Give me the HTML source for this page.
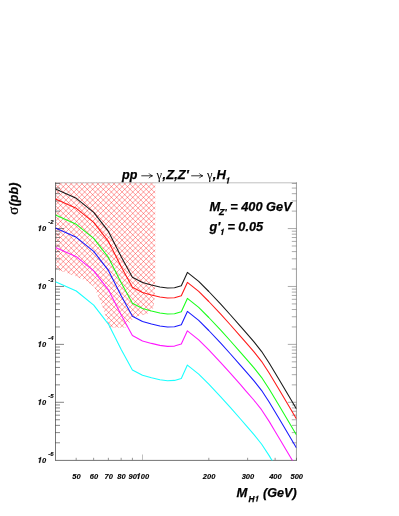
<!DOCTYPE html>
<html><head><meta charset="utf-8"><title>plot</title>
<style>
html,body{margin:0;padding:0;background:#fff;}
body{width:399px;height:516px;overflow:hidden;font-family:"Liberation Sans",sans-serif;}
svg{display:block;will-change:transform}
text{stroke:#000;stroke-width:0.25px;font-family:"Liberation Sans",sans-serif;font-weight:bold;font-style:italic;fill:#000}
.sm{stroke-width:0.12px}
.sym{font-family:"Liberation Serif",serif;font-weight:normal;font-style:normal}
</style></head><body>
<svg width="399" height="516" viewBox="0 0 399 516">
<defs>
<pattern id="h" width="5.37" height="5.37" patternUnits="userSpaceOnUse" x="110.1" y="186.8">
<path d="M-1 -1 L6.37 6.37 M-1 6.37 L6.37 -1" stroke="#ff2020" stroke-width="0.5" fill="none"/>
</pattern>
<clipPath id="c"><rect x="55.4" y="182.6" width="241.0" height="278.0"/></clipPath>
</defs>
<rect width="399" height="516" fill="#fff"/>
<clipPath id="hc"><polygon points="55.4,182.6 155.3,182.6 155.3,280.0 154.8,296.0 153.6,308.0 148.8,313.3 135.0,317.3 129.8,322.2 125.3,327.8 109.0,327.6 105.6,315.5 102.3,306.3 97.9,295.8 94.4,287.0 86.0,280.8 75.5,276.3 63.5,271.8 55.4,269.5"/></clipPath>
<g clip-path="url(#hc)" fill="none" stroke="#ff0000" stroke-opacity="0.48" stroke-width="0.8"><path d="M50.00 328.55 L160.00 438.55 M50.00 323.20 L160.00 433.20 M50.00 317.85 L160.00 427.85 M50.00 312.50 L160.00 422.50 M50.00 307.15 L160.00 417.15 M50.00 301.80 L160.00 411.80 M50.00 296.45 L160.00 406.45 M50.00 291.10 L160.00 401.10 M50.00 285.75 L160.00 395.75 M50.00 280.40 L160.00 390.40 M50.00 275.05 L160.00 385.05 M50.00 269.70 L160.00 379.70 M50.00 264.35 L160.00 374.35 M50.00 259.00 L160.00 369.00 M50.00 253.65 L160.00 363.65 M50.00 248.30 L160.00 358.30 M50.00 242.95 L160.00 352.95 M50.00 237.60 L160.00 347.60 M50.00 232.25 L160.00 342.25 M50.00 226.90 L160.00 336.90 M50.00 221.55 L160.00 331.55 M50.00 216.20 L160.00 326.20 M50.00 210.85 L160.00 320.85 M50.00 205.50 L160.00 315.50 M50.00 200.15 L160.00 310.15 M50.00 194.80 L160.00 304.80 M50.00 189.45 L160.00 299.45 M50.00 184.10 L160.00 294.10 M50.00 178.75 L160.00 288.75 M50.00 173.40 L160.00 283.40 M50.00 168.05 L160.00 278.05 M50.00 162.70 L160.00 272.70 M50.00 157.35 L160.00 267.35 M50.00 152.00 L160.00 262.00 M50.00 146.65 L160.00 256.65 M50.00 141.30 L160.00 251.30 M50.00 135.95 L160.00 245.95 M50.00 130.60 L160.00 240.60 M50.00 125.25 L160.00 235.25 M50.00 119.90 L160.00 229.90 M50.00 114.55 L160.00 224.55 M50.00 109.20 L160.00 219.20 M50.00 103.85 L160.00 213.85 M50.00 98.50 L160.00 208.50 M50.00 93.15 L160.00 203.15 M50.00 87.80 L160.00 197.80 M50.00 82.45 L160.00 192.45 M50.00 77.10 L160.00 187.10 M50.00 71.75 L160.00 181.75 M50.00 66.40 L160.00 176.40"/><path d="M50.00 178.45 L160.00 68.45 M50.00 183.80 L160.00 73.80 M50.00 189.15 L160.00 79.15 M50.00 194.50 L160.00 84.50 M50.00 199.85 L160.00 89.85 M50.00 205.20 L160.00 95.20 M50.00 210.55 L160.00 100.55 M50.00 215.90 L160.00 105.90 M50.00 221.25 L160.00 111.25 M50.00 226.60 L160.00 116.60 M50.00 231.95 L160.00 121.95 M50.00 237.30 L160.00 127.30 M50.00 242.65 L160.00 132.65 M50.00 248.00 L160.00 138.00 M50.00 253.35 L160.00 143.35 M50.00 258.70 L160.00 148.70 M50.00 264.05 L160.00 154.05 M50.00 269.40 L160.00 159.40 M50.00 274.75 L160.00 164.75 M50.00 280.10 L160.00 170.10 M50.00 285.45 L160.00 175.45 M50.00 290.80 L160.00 180.80 M50.00 296.15 L160.00 186.15 M50.00 301.50 L160.00 191.50 M50.00 306.85 L160.00 196.85 M50.00 312.20 L160.00 202.20 M50.00 317.55 L160.00 207.55 M50.00 322.90 L160.00 212.90 M50.00 328.25 L160.00 218.25 M50.00 333.60 L160.00 223.60 M50.00 338.95 L160.00 228.95 M50.00 344.30 L160.00 234.30 M50.00 349.65 L160.00 239.65 M50.00 355.00 L160.00 245.00 M50.00 360.35 L160.00 250.35 M50.00 365.70 L160.00 255.70 M50.00 371.05 L160.00 261.05 M50.00 376.40 L160.00 266.40 M50.00 381.75 L160.00 271.75 M50.00 387.10 L160.00 277.10 M50.00 392.45 L160.00 282.45 M50.00 397.80 L160.00 287.80 M50.00 403.15 L160.00 293.15 M50.00 408.50 L160.00 298.50 M50.00 413.85 L160.00 303.85 M50.00 419.20 L160.00 309.20 M50.00 424.55 L160.00 314.55 M50.00 429.90 L160.00 319.90 M50.00 435.25 L160.00 325.25 M50.00 440.60 L160.00 330.60"/></g>
<g fill="none">
<line x1="55" y1="182.8" x2="297" y2="182.8" stroke="#b0b0b0" stroke-width="0.8"/>
<line x1="296.45" y1="182.4" x2="296.45" y2="461" stroke="#8c8c8c" stroke-width="0.85"/>
<line x1="55.5" y1="182.4" x2="55.5" y2="461" stroke="#787878" stroke-width="1"/>
<line x1="55" y1="460.4" x2="297" y2="460.4" stroke="#747474" stroke-width="1"/>
</g>
<line x1="55.40" y1="442.79" x2="60.00" y2="442.79" stroke="#222" stroke-width="0.55"/>
<line x1="296.40" y1="442.79" x2="291.80" y2="442.79" stroke="#666" stroke-width="0.55"/>
<line x1="55.40" y1="432.60" x2="60.00" y2="432.60" stroke="#222" stroke-width="0.55"/>
<line x1="296.40" y1="432.60" x2="291.80" y2="432.60" stroke="#666" stroke-width="0.55"/>
<line x1="55.40" y1="425.36" x2="60.00" y2="425.36" stroke="#222" stroke-width="0.55"/>
<line x1="296.40" y1="425.36" x2="291.80" y2="425.36" stroke="#666" stroke-width="0.55"/>
<line x1="55.40" y1="419.75" x2="60.00" y2="419.75" stroke="#222" stroke-width="0.55"/>
<line x1="296.40" y1="419.75" x2="291.80" y2="419.75" stroke="#666" stroke-width="0.55"/>
<line x1="55.40" y1="415.16" x2="60.00" y2="415.16" stroke="#222" stroke-width="0.55"/>
<line x1="296.40" y1="415.16" x2="291.80" y2="415.16" stroke="#666" stroke-width="0.55"/>
<line x1="55.40" y1="411.28" x2="60.00" y2="411.28" stroke="#222" stroke-width="0.55"/>
<line x1="296.40" y1="411.28" x2="291.80" y2="411.28" stroke="#666" stroke-width="0.55"/>
<line x1="55.40" y1="407.92" x2="60.00" y2="407.92" stroke="#222" stroke-width="0.55"/>
<line x1="296.40" y1="407.92" x2="291.80" y2="407.92" stroke="#666" stroke-width="0.55"/>
<line x1="55.40" y1="404.96" x2="60.00" y2="404.96" stroke="#222" stroke-width="0.55"/>
<line x1="296.40" y1="404.96" x2="291.80" y2="404.96" stroke="#666" stroke-width="0.55"/>
<line x1="55.40" y1="402.31" x2="64.00" y2="402.31" stroke="#222" stroke-width="0.55"/>
<line x1="296.40" y1="402.31" x2="287.80" y2="402.31" stroke="#666" stroke-width="0.55"/>
<line x1="55.40" y1="384.87" x2="60.00" y2="384.87" stroke="#222" stroke-width="0.55"/>
<line x1="296.40" y1="384.87" x2="291.80" y2="384.87" stroke="#666" stroke-width="0.55"/>
<line x1="55.40" y1="374.68" x2="60.00" y2="374.68" stroke="#222" stroke-width="0.55"/>
<line x1="296.40" y1="374.68" x2="291.80" y2="374.68" stroke="#666" stroke-width="0.55"/>
<line x1="55.40" y1="367.44" x2="60.00" y2="367.44" stroke="#222" stroke-width="0.55"/>
<line x1="296.40" y1="367.44" x2="291.80" y2="367.44" stroke="#666" stroke-width="0.55"/>
<line x1="55.40" y1="361.83" x2="60.00" y2="361.83" stroke="#222" stroke-width="0.55"/>
<line x1="296.40" y1="361.83" x2="291.80" y2="361.83" stroke="#666" stroke-width="0.55"/>
<line x1="55.40" y1="357.24" x2="60.00" y2="357.24" stroke="#222" stroke-width="0.55"/>
<line x1="296.40" y1="357.24" x2="291.80" y2="357.24" stroke="#666" stroke-width="0.55"/>
<line x1="55.40" y1="353.36" x2="60.00" y2="353.36" stroke="#222" stroke-width="0.55"/>
<line x1="296.40" y1="353.36" x2="291.80" y2="353.36" stroke="#666" stroke-width="0.55"/>
<line x1="55.40" y1="350.00" x2="60.00" y2="350.00" stroke="#222" stroke-width="0.55"/>
<line x1="296.40" y1="350.00" x2="291.80" y2="350.00" stroke="#666" stroke-width="0.55"/>
<line x1="55.40" y1="347.04" x2="60.00" y2="347.04" stroke="#222" stroke-width="0.55"/>
<line x1="296.40" y1="347.04" x2="291.80" y2="347.04" stroke="#666" stroke-width="0.55"/>
<line x1="55.40" y1="344.39" x2="64.00" y2="344.39" stroke="#222" stroke-width="0.55"/>
<line x1="296.40" y1="344.39" x2="287.80" y2="344.39" stroke="#666" stroke-width="0.55"/>
<line x1="55.40" y1="326.95" x2="60.00" y2="326.95" stroke="#222" stroke-width="0.55"/>
<line x1="296.40" y1="326.95" x2="291.80" y2="326.95" stroke="#666" stroke-width="0.55"/>
<line x1="55.40" y1="316.76" x2="60.00" y2="316.76" stroke="#222" stroke-width="0.55"/>
<line x1="296.40" y1="316.76" x2="291.80" y2="316.76" stroke="#666" stroke-width="0.55"/>
<line x1="55.40" y1="309.52" x2="60.00" y2="309.52" stroke="#222" stroke-width="0.55"/>
<line x1="296.40" y1="309.52" x2="291.80" y2="309.52" stroke="#666" stroke-width="0.55"/>
<line x1="55.40" y1="303.91" x2="60.00" y2="303.91" stroke="#222" stroke-width="0.55"/>
<line x1="296.40" y1="303.91" x2="291.80" y2="303.91" stroke="#666" stroke-width="0.55"/>
<line x1="55.40" y1="299.32" x2="60.00" y2="299.32" stroke="#222" stroke-width="0.55"/>
<line x1="296.40" y1="299.32" x2="291.80" y2="299.32" stroke="#666" stroke-width="0.55"/>
<line x1="55.40" y1="295.44" x2="60.00" y2="295.44" stroke="#222" stroke-width="0.55"/>
<line x1="296.40" y1="295.44" x2="291.80" y2="295.44" stroke="#666" stroke-width="0.55"/>
<line x1="55.40" y1="292.08" x2="60.00" y2="292.08" stroke="#222" stroke-width="0.55"/>
<line x1="296.40" y1="292.08" x2="291.80" y2="292.08" stroke="#666" stroke-width="0.55"/>
<line x1="55.40" y1="289.12" x2="60.00" y2="289.12" stroke="#222" stroke-width="0.55"/>
<line x1="296.40" y1="289.12" x2="291.80" y2="289.12" stroke="#666" stroke-width="0.55"/>
<line x1="55.40" y1="286.47" x2="64.00" y2="286.47" stroke="#222" stroke-width="0.55"/>
<line x1="296.40" y1="286.47" x2="287.80" y2="286.47" stroke="#666" stroke-width="0.55"/>
<line x1="55.40" y1="269.03" x2="60.00" y2="269.03" stroke="#222" stroke-width="0.55"/>
<line x1="296.40" y1="269.03" x2="291.80" y2="269.03" stroke="#666" stroke-width="0.55"/>
<line x1="55.40" y1="258.84" x2="60.00" y2="258.84" stroke="#222" stroke-width="0.55"/>
<line x1="296.40" y1="258.84" x2="291.80" y2="258.84" stroke="#666" stroke-width="0.55"/>
<line x1="55.40" y1="251.60" x2="60.00" y2="251.60" stroke="#222" stroke-width="0.55"/>
<line x1="296.40" y1="251.60" x2="291.80" y2="251.60" stroke="#666" stroke-width="0.55"/>
<line x1="55.40" y1="245.99" x2="60.00" y2="245.99" stroke="#222" stroke-width="0.55"/>
<line x1="296.40" y1="245.99" x2="291.80" y2="245.99" stroke="#666" stroke-width="0.55"/>
<line x1="55.40" y1="241.40" x2="60.00" y2="241.40" stroke="#222" stroke-width="0.55"/>
<line x1="296.40" y1="241.40" x2="291.80" y2="241.40" stroke="#666" stroke-width="0.55"/>
<line x1="55.40" y1="237.52" x2="60.00" y2="237.52" stroke="#222" stroke-width="0.55"/>
<line x1="296.40" y1="237.52" x2="291.80" y2="237.52" stroke="#666" stroke-width="0.55"/>
<line x1="55.40" y1="234.16" x2="60.00" y2="234.16" stroke="#222" stroke-width="0.55"/>
<line x1="296.40" y1="234.16" x2="291.80" y2="234.16" stroke="#666" stroke-width="0.55"/>
<line x1="55.40" y1="231.20" x2="60.00" y2="231.20" stroke="#222" stroke-width="0.55"/>
<line x1="296.40" y1="231.20" x2="291.80" y2="231.20" stroke="#666" stroke-width="0.55"/>
<line x1="55.40" y1="228.55" x2="64.00" y2="228.55" stroke="#222" stroke-width="0.55"/>
<line x1="296.40" y1="228.55" x2="287.80" y2="228.55" stroke="#666" stroke-width="0.55"/>
<line x1="55.40" y1="211.11" x2="60.00" y2="211.11" stroke="#222" stroke-width="0.55"/>
<line x1="296.40" y1="211.11" x2="291.80" y2="211.11" stroke="#666" stroke-width="0.55"/>
<line x1="55.40" y1="200.92" x2="60.00" y2="200.92" stroke="#222" stroke-width="0.55"/>
<line x1="296.40" y1="200.92" x2="291.80" y2="200.92" stroke="#666" stroke-width="0.55"/>
<line x1="55.40" y1="193.68" x2="60.00" y2="193.68" stroke="#222" stroke-width="0.55"/>
<line x1="296.40" y1="193.68" x2="291.80" y2="193.68" stroke="#666" stroke-width="0.55"/>
<line x1="55.40" y1="188.07" x2="60.00" y2="188.07" stroke="#222" stroke-width="0.55"/>
<line x1="296.40" y1="188.07" x2="291.80" y2="188.07" stroke="#666" stroke-width="0.55"/>
<line x1="55.40" y1="183.48" x2="60.00" y2="183.48" stroke="#222" stroke-width="0.55"/>
<line x1="296.40" y1="183.48" x2="291.80" y2="183.48" stroke="#666" stroke-width="0.55"/>
<line x1="76.18" y1="460.10" x2="76.18" y2="457.80" stroke="#444" stroke-width="0.55"/>
<line x1="93.63" y1="460.10" x2="93.63" y2="457.80" stroke="#444" stroke-width="0.55"/>
<line x1="108.38" y1="460.10" x2="108.38" y2="457.80" stroke="#444" stroke-width="0.55"/>
<line x1="121.15" y1="460.10" x2="121.15" y2="457.80" stroke="#444" stroke-width="0.55"/>
<line x1="132.42" y1="460.10" x2="132.42" y2="457.80" stroke="#444" stroke-width="0.55"/>
<line x1="142.50" y1="460.10" x2="142.50" y2="454.50" stroke="#8a8a8a" stroke-width="0.55"/>
<line x1="208.82" y1="460.10" x2="208.82" y2="457.80" stroke="#444" stroke-width="0.55"/>
<line x1="247.61" y1="460.10" x2="247.61" y2="457.80" stroke="#444" stroke-width="0.55"/>
<line x1="275.13" y1="460.10" x2="275.13" y2="457.80" stroke="#444" stroke-width="0.55"/>
<line x1="296.48" y1="460.10" x2="296.48" y2="457.80" stroke="#444" stroke-width="0.55"/>
<g clip-path="url(#c)">
<path d="M55.5 189.0 L76.3 198.3 L93.7 212.4 L108.4 231.4 L121.2 256.7 L132.4 277.2 L142.5 282.6 L151.5 285.0 L159.9 287.0 L167.5 288.0 L174.5 287.7 L181.3 285.7 L187.4 272.4 L198.7 281.4 L208.8 291.5 L220.5 303.9 L230.5 315.0 L240.5 326.3 L246.0 332.7 L253.8 341.6 L261.5 351.3 L269.3 363.2 L275.0 372.8 L279.5 380.3 L296.5 409.0" fill="none" stroke="#000000" stroke-width="1.08" stroke-opacity="0.9" stroke-linejoin="round"/>
<path d="M55.5 199.0 L76.3 208.3 L93.7 222.4 L108.4 241.4 L121.2 266.7 L132.4 287.2 L142.5 292.6 L151.5 295.0 L159.9 297.0 L167.5 298.0 L174.5 297.7 L181.3 295.7 L187.4 282.4 L198.7 291.4 L208.8 301.5 L220.5 313.9 L230.5 325.0 L240.5 336.3 L246.0 342.7 L253.8 351.6 L261.5 361.3 L269.3 373.2 L275.0 382.8 L279.5 390.3 L296.5 419.0" fill="none" stroke="#ff0000" stroke-width="1.08" stroke-opacity="0.9" stroke-linejoin="round"/>
<path d="M55.5 215.0 L76.3 224.3 L93.7 238.4 L108.4 257.4 L121.2 282.7 L132.4 303.2 L142.5 308.6 L151.5 311.0 L159.9 313.0 L167.5 314.0 L174.5 313.7 L181.3 311.7 L187.4 298.4 L198.7 307.4 L208.8 317.5 L220.5 329.9 L230.5 341.0 L240.5 352.3 L246.0 358.7 L253.8 367.6 L261.5 377.3 L269.3 389.2 L275.0 398.8 L279.5 406.3 L296.5 435.0" fill="none" stroke="#00ff00" stroke-width="1.08" stroke-opacity="0.9" stroke-linejoin="round"/>
<path d="M55.5 228.0 L76.3 237.3 L93.7 251.4 L108.4 270.4 L121.2 295.7 L132.4 316.2 L142.5 321.6 L151.5 324.0 L159.9 326.0 L167.5 327.0 L174.5 326.7 L181.3 324.7 L187.4 311.4 L198.7 320.4 L208.8 330.5 L220.5 342.9 L230.5 354.0 L240.5 365.3 L246.0 371.7 L253.8 380.6 L261.5 390.3 L269.3 402.2 L275.0 411.8 L279.5 419.3 L296.5 448.0" fill="none" stroke="#0000ff" stroke-width="1.08" stroke-opacity="0.9" stroke-linejoin="round"/>
<path d="M55.5 247.4 L76.3 256.7 L93.7 270.8 L108.4 289.8 L121.2 315.1 L132.4 335.6 L142.5 341.0 L151.5 343.4 L159.9 345.4 L167.5 346.4 L174.5 346.1 L181.3 344.1 L187.4 330.8 L198.7 339.8 L208.8 349.9 L220.5 362.3 L230.5 373.4 L240.5 384.7 L246.0 391.1 L253.8 400.0 L261.5 409.7 L269.3 421.6 L275.0 431.2 L279.5 438.7 L296.5 467.4" fill="none" stroke="#ff00ff" stroke-width="1.08" stroke-opacity="0.9" stroke-linejoin="round"/>
<path d="M55.5 281.7 L76.3 291.0 L93.7 305.1 L108.4 324.1 L121.2 349.4 L132.4 369.9 L142.5 375.3 L151.5 377.7 L159.9 379.7 L167.5 380.7 L174.5 380.4 L181.3 378.4 L187.4 365.1 L198.7 374.1 L208.8 384.2 L220.5 396.6 L230.5 407.7 L240.5 419.0 L246.0 425.4 L253.8 434.3 L261.5 444.0 L269.3 455.9 L275.0 465.5 L279.5 473.0 L296.5 501.7" fill="none" stroke="#00ffff" stroke-width="1.08" stroke-opacity="0.9" stroke-linejoin="round"/>
</g>
<text class="sm" x="76.5" y="478.9" font-size="7.5" text-anchor="middle">50</text>
<text class="sm" x="93.9" y="478.9" font-size="7.5" text-anchor="middle">60</text>
<text class="sm" x="108.7" y="478.9" font-size="7.5" text-anchor="middle">70</text>
<text class="sm" x="121.5" y="478.9" font-size="7.5" text-anchor="middle">80</text>
<text class="sm" x="132.7" y="478.9" font-size="7.5" text-anchor="middle">90</text>
<path d="M137.69 478.90 L138.79 478.90 L139.97 473.32 L139.16 473.32 L138.87 473.91 L138.28 474.30 L137.48 474.41 L137.32 475.16 L138.49 475.16Z" fill="#000" stroke="#000" stroke-width="0.25"/>
<text class="sm" x="140.72" y="478.9" font-size="7.5">00</text>
<text class="sm" x="209.1" y="478.9" font-size="7.5" text-anchor="middle">200</text>
<text class="sm" x="247.9" y="478.9" font-size="7.5" text-anchor="middle">300</text>
<text class="sm" x="275.4" y="478.9" font-size="7.5" text-anchor="middle">400</text>
<text class="sm" x="296.8" y="478.9" font-size="7.5" text-anchor="middle">500</text>
<path d="M38.95 462.73 L40.04 462.73 L41.23 457.15 L40.41 457.15 L40.13 457.74 L39.54 458.13 L38.73 458.25 L38.58 458.99 L39.75 458.99Z" fill="#000" stroke="#000" stroke-width="0.25"/>
<text class="sm" x="42.07" y="462.7" font-size="7.5">0</text>
<text class="sm" x="48.3" y="455.7" font-size="6">-6</text>
<path d="M38.95 404.81 L40.04 404.81 L41.23 399.23 L40.41 399.23 L40.13 399.82 L39.54 400.21 L38.73 400.32 L38.58 401.07 L39.75 401.07Z" fill="#000" stroke="#000" stroke-width="0.25"/>
<text class="sm" x="42.07" y="404.8" font-size="7.5">0</text>
<text class="sm" x="48.3" y="397.8" font-size="6">-5</text>
<path d="M38.95 346.89 L40.04 346.89 L41.23 341.31 L40.41 341.31 L40.13 341.90 L39.54 342.29 L38.73 342.40 L38.58 343.15 L39.75 343.15Z" fill="#000" stroke="#000" stroke-width="0.25"/>
<text class="sm" x="42.07" y="346.9" font-size="7.5">0</text>
<text class="sm" x="48.3" y="339.9" font-size="6">-4</text>
<path d="M38.95 288.97 L40.04 288.97 L41.23 283.39 L40.41 283.39 L40.13 283.98 L39.54 284.37 L38.73 284.49 L38.58 285.23 L39.75 285.23Z" fill="#000" stroke="#000" stroke-width="0.25"/>
<text class="sm" x="42.07" y="289.0" font-size="7.5">0</text>
<text class="sm" x="48.3" y="282.0" font-size="6">-3</text>
<path d="M38.95 231.05 L40.04 231.05 L41.23 225.47 L40.41 225.47 L40.13 226.06 L39.54 226.45 L38.73 226.56 L38.58 227.31 L39.75 227.31Z" fill="#000" stroke="#000" stroke-width="0.25"/>
<text class="sm" x="42.07" y="231.1" font-size="7.5">0</text>
<text class="sm" x="48.3" y="224.1" font-size="6">-2</text>
<g font-size="13">
<text x="122" y="178.8" font-size="12.5">pp</text>
<path d="M141.3 175.8 H152.3 M149.0 173.4 Q150.2 175.2 152.5 175.8 Q150.2 176.4 149.0 178.2" fill="none" stroke="#000" stroke-width="0.8"/>
<text x="156.5" y="178.8" class="sym" style="stroke:none" textLength="5.5" lengthAdjust="spacingAndGlyphs">γ</text>
<text x="162.6" y="178.8">,Z,Z'</text>
<path d="M191.2 175.8 H202.6 M199.3 173.4 Q200.5 175.2 202.8 175.8 Q200.5 176.4 199.3 178.2" fill="none" stroke="#000" stroke-width="0.8"/>
<text x="207" y="178.8" class="sym" style="stroke:none" textLength="5.5" lengthAdjust="spacingAndGlyphs">γ</text>
<text x="212.8" y="178.8">,H</text>
<path d="M226.95 183.50 L228.15 183.50 L229.46 177.34 L228.56 177.34 L228.25 178.00 L227.60 178.43 L226.71 178.56 L226.54 179.37 L227.83 179.37Z" fill="#000" stroke="#000" stroke-width="0.15"/>
</g>
<text x="209.5" y="210.7" font-size="12.8">M<tspan font-size="9" dy="4" dx="-1.2">Z'</tspan><tspan dy="-4"> = 400 GeV</tspan></text>
<path d="M221.38 235.00 L222.59 235.00 L223.92 228.77 L223.00 228.77 L222.69 229.43 L222.03 229.87 L221.13 230.00 L220.96 230.82 L222.26 230.82Z" fill="#000" stroke="#000" stroke-width="0.15"/><text x="209.5" y="230.9" font-size="12.7">g'<tspan font-size="9" dy="4.8" dx="-0.5" style="fill:none;stroke:none">1</tspan><tspan dy="-4.8" dx="-0.9"> = 0.05</tspan></text>
<text x="236.6" y="497" font-size="13">M</text>
<text x="248.5" y="501.6" font-size="8.3">H</text><path d="M256.07 501.60 L257.24 501.60 L258.50 495.66 L257.63 495.66 L257.33 496.29 L256.70 496.70 L255.84 496.83 L255.68 497.62 L256.92 497.62Z" fill="#000" stroke="#000" stroke-width="0.15"/>
<text x="263.0" y="497" font-size="12.6">(GeV)</text>
<text transform="translate(18.4,214.8) rotate(-90)" font-size="15" class="sym">σ</text>
<text transform="translate(18.3,206.3) rotate(-90)" font-size="12.5">(pb)</text>
</svg>
</body></html>
